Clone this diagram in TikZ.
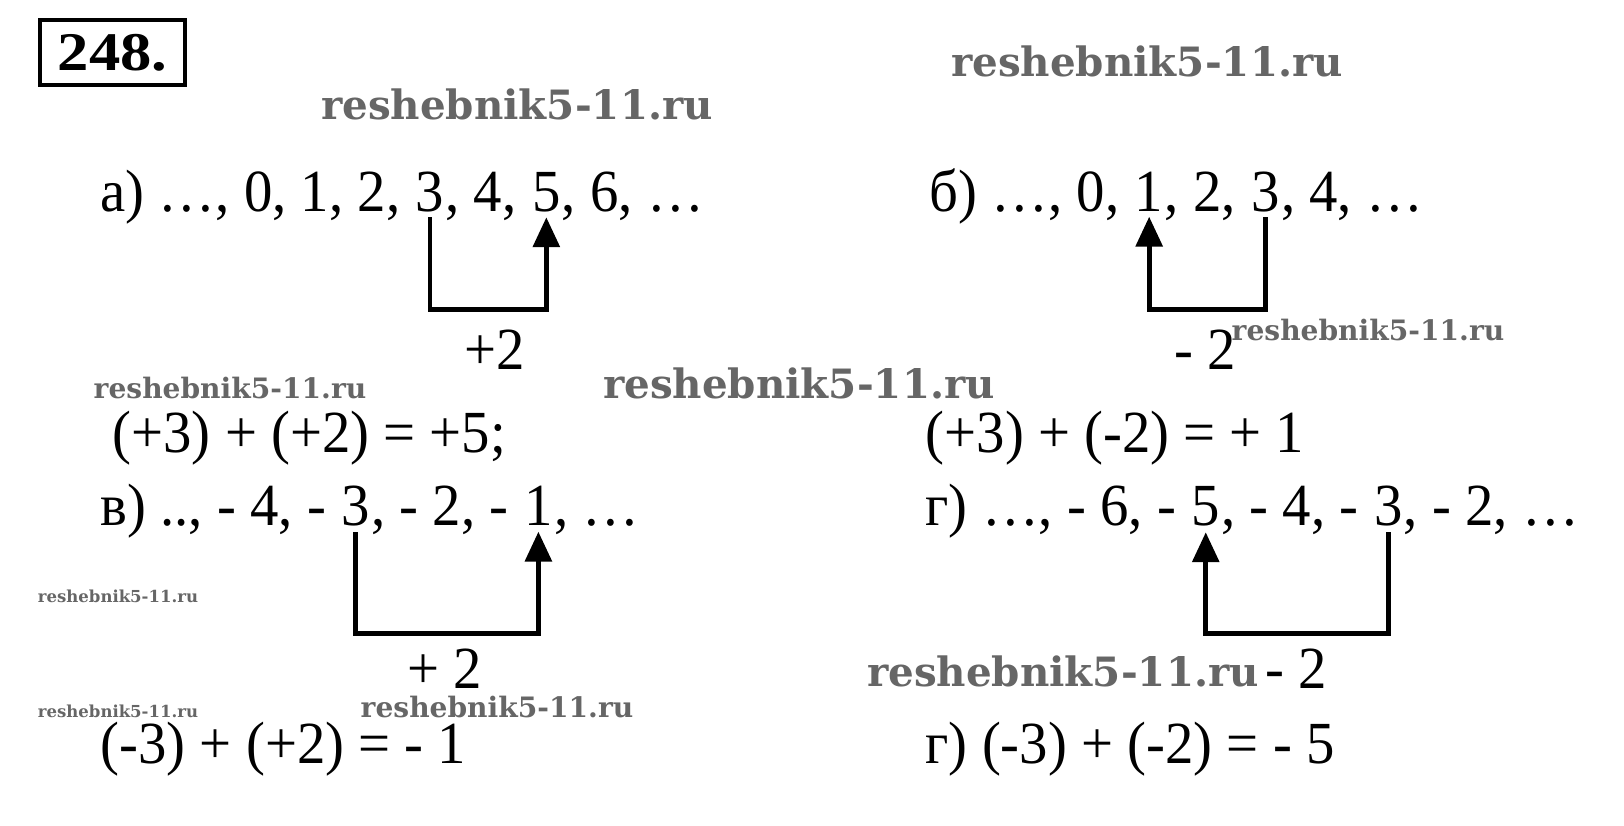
\documentclass[tikz,border=0pt]{standalone}
\usepackage{fontspec}
\setmainfont[FakeStretch=0.95]{Liberation Serif}
\newfontfamily\boxfont[FakeStretch=1.15]{Liberation Serif}
\newfontfamily\wmfont{DejaVu Serif}
\usetikzlibrary{arrows.meta}
\tikzset{
  seq/.style={inner sep=0pt,anchor=base west,font=\fontsize{17}{19}\selectfont},
  hop/.style={line width=1.4pt,-{Triangle[length=8.5pt,width=7.5pt]}},
  wm/.style={inner sep=0pt,text=black!60,font=\wmfont\bfseries\fontsize{#1}{#1}\selectfont},
  wm/.default=11.5,
}
\begin{document}
\begin{tikzpicture}
\useasboundingbox (0,0) rectangle (16.24,8.26);

\node[draw,line width=1.2pt,inner sep=0pt,minimum width=1.45cm,minimum height=0.65cm,
  font=\boxfont\bfseries\fontsize{15.5}{17}\selectfont] (num) at (1.125,7.735) {248.};

% watermarks
\node[wm] (w1) at (5.17,7.22) {reshebnik5-11.ru};
\node[wm] (w2) at (11.47,7.65) {reshebnik5-11.ru};
\node[wm] (w3) at (7.99,4.43) {reshebnik5-11.ru};
\node[wm=8] (w4) at (2.30,4.38) {reshebnik5-11.ru};
\node[wm=8] (w5) at (13.68,4.96) {reshebnik5-11.ru};
\node[wm=4.7] (w6) at (1.18,2.30) {reshebnik5-11.ru};
\node[wm=4.7] (w7) at (1.18,1.15) {reshebnik5-11.ru};
\node[wm=8] (w8) at (4.97,1.19) {reshebnik5-11.ru};
\node[wm] (w9) at (10.63,1.55) {reshebnik5-11.ru};

% а)
\node[seq] (a0) at (1.00,6.14) {а) …, 0, 1, 2,\ \null};
\node[seq] (a3) at (a0.base east) {3};
\node[seq] (a4) at (a3.base east) {, 4,\ \null};
\node[seq] (a5) at (a4.base east) {5};
\node[seq] (a6) at (a5.base east) {, 6, …};
\draw[hop] ([yshift=-0.04cm]a3.south) -- ++(0,-0.92) -| ([yshift=-0.04cm]a5.south);
\node[seq,anchor=base] (ka) at (4.95,4.56) {+2};
\node[seq] (ea) at (1.12,3.73) {(+3) + (+2) = +5;};

% б)
\node[seq] (b0) at (9.29,6.14) {б) …, 0,\ \null};
\node[seq] (b1) at (b0.base east) {1};
\node[seq] (b2) at (b1.base east) {, 2,\ \null};
\node[seq] (b3) at (b2.base east) {3};
\node[seq] (b4) at (b3.base east) {, 4, …};
\draw[hop] ([yshift=-0.04cm]b3.south) -- ++(0,-0.92) -| ([yshift=-0.04cm]b1.south);
\node[seq,anchor=base] (kb) at (12.05,4.56) {- 2};
\node[seq] (eb) at (9.25,3.73) {(+3) + (-2) = + 1};

% в)
\node[seq] (c0) at (1.00,3.00) {в) .., - 4, -\ \null};
\node[seq] (c3) at (c0.base east) {3};
\node[seq] (c2) at (c3.base east) {, - 2, -\ \null};
\node[seq] (c1) at (c2.base east) {1};
\node[seq] (c4) at (c1.base east) {, …};
\draw[hop] ([yshift=-0.05cm]c3.south) -- ++(0,-1.01) -| ([yshift=-0.05cm]c1.south);
\node[seq,anchor=base] (kc) at (4.45,1.37) {+ 2};
\node[seq] (ec) at (1.00,0.62) {(-3) + (+2) = - 1};

% г)
\node[seq] (d0) at (9.25,3.00) {г) …, - 6, -\ \null};
\node[seq] (d5) at (d0.base east) {5};
\node[seq] (d4) at (d5.base east) {, - 4, -\ \null};
\node[seq] (d3) at (d4.base east) {3};
\node[seq] (d2) at (d3.base east) {, - 2, …};
\draw[hop] ([yshift=-0.05cm]d3.south) -- ++(0,-1.01) -| ([yshift=-0.05cm]d5.south);
\node[seq,anchor=base] (kd) at (12.96,1.37) {- 2};
\node[seq] (ed) at (9.25,0.62) {г) (-3) + (-2) = - 5};
\end{tikzpicture}
\end{document}
